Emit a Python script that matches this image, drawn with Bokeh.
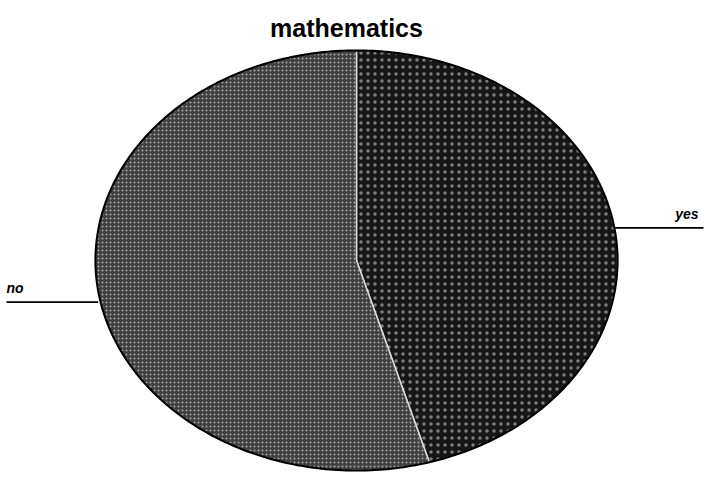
import numpy as np
from bokeh.plotting import figure
from bokeh.models import Range1d, ColumnDataSource
from bokeh.embed import file_html
from bokeh.resources import INLINE
from bokeh.core.properties import value

# ---- data ----
chart_title = "mathematics"
categories = ["yes", "no"]
shares = [45.5, 54.5]
fill_colors = ["#161616", "#404040"]
hatch_scales = [7, 4]
hatch_alphas = [0.45, 0.55]

# ---- layout (pixels) ----
W, H = 704, 480
cx, cy = 356, 260          # pie centre, canvas pixels from top-left
rx, ry = 261, 210          # ellipse radii in pixels

p = figure(width=W, height=H, output_backend="svg", toolbar_location=None,
           x_range=Range1d(-cx / rx, (W - cx) / rx),
           y_range=Range1d(-(H - cy) / ry, cy / ry),
           min_border=0, tools="", x_axis_type=None, y_axis_type=None)
p.grid.visible = False
p.outline_line_color = None
p.background_fill_color = "white"
p.border_fill_color = "white"

total = float(sum(shares))
xs, ys, mids = [], [], []
start = 0.0
for s in shares:
    end = start + s / total * 2 * np.pi
    t = np.linspace(start, end, 240)
    xs.append([0.0] + list(np.sin(t)) + [0.0])
    ys.append([0.0] + list(np.cos(t)) + [0.0])
    mids.append((start + end) / 2)
    start = end

src = ColumnDataSource(dict(xs=xs, ys=ys, color=fill_colors, hs=hatch_scales,
                            ha=hatch_alphas, cat=categories))
p.patches("xs", "ys", source=src, fill_color="color", line_color="#dddddd",
          line_width=1.5, hatch_pattern="dot", hatch_color="white",
          hatch_scale="hs", hatch_alpha="ha", hatch_weight=1.2)

# outer ellipse edge
tt = np.linspace(0, 2 * np.pi, 400)
p.line(np.sin(tt), np.cos(tt), line_color="black", line_width=2.2)

# leader lines and labels
x_left = p.x_range.start
x_right = p.x_range.end
for cat, m in zip(categories, mids):
    ex, ey = np.sin(m), np.cos(m)
    if ex >= 0:
        ly = ey + 3 / ry
        p.segment([ex], [ly], [x_right - 1 / rx], [ly], line_color="black", line_width=1.6)
        p.text([x_right - 6 / rx], [ly + 6 / ry], text=[cat], text_align="right",
               text_baseline="bottom", text_font=value("Liberation Sans"),
               text_font_style="bold italic", text_font_size="14px", text_color="black")
    else:
        ly = ey - 12 / ry
        p.segment([x_left + 6 / rx], [ly], [ex], [ly], line_color="black", line_width=1.6)
        p.text([x_left + 6 / rx], [ly + 6 / ry], text=[cat], text_align="left",
               text_baseline="bottom", text_font=value("Liberation Sans"),
               text_font_style="bold italic", text_font_size="14px", text_color="black")

# title
p.text([-10 / rx], [(cy - 27) / ry], text=[chart_title], text_align="center",
       text_baseline="alphabetic", text_font=value("Liberation Sans"),
       text_font_style="bold", text_font_size="25px", text_color="black")

open("out.html", "w").write(file_html(p, INLINE))
